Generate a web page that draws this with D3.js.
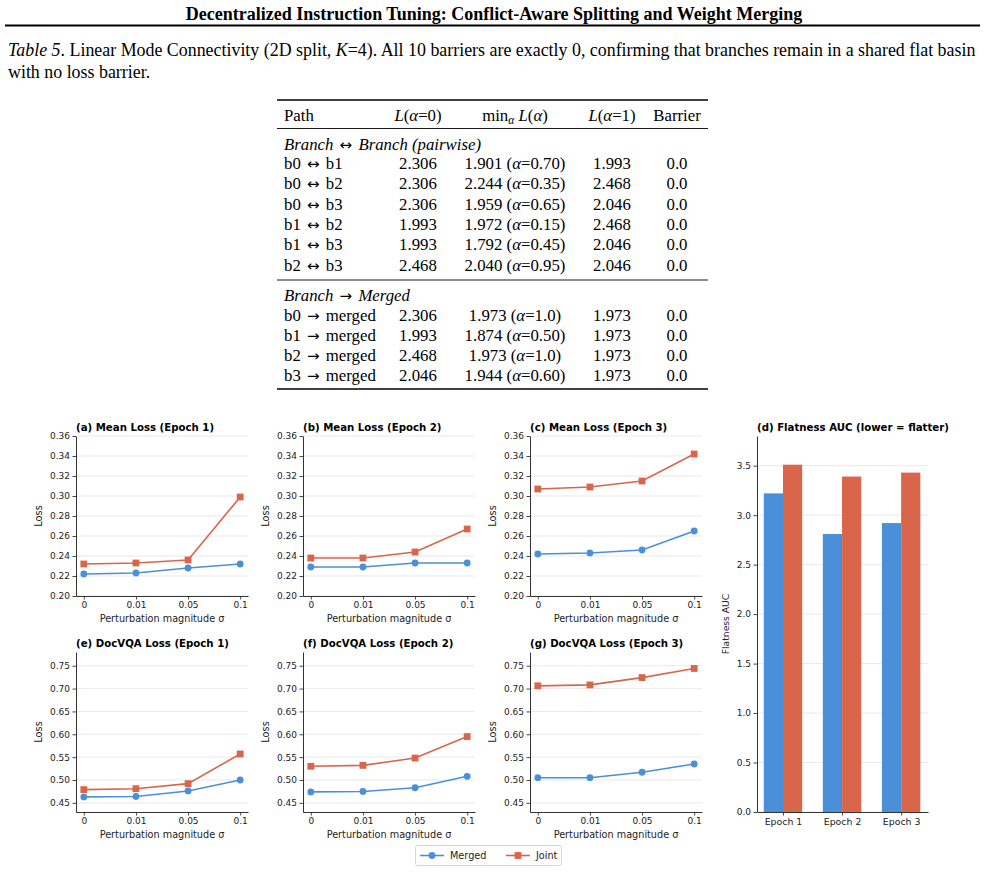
<!DOCTYPE html>
<html><head><meta charset="utf-8">
<script src="https://cdn.jsdelivr.net/npm/d3@7"></script>
<style>
body{margin:0;background:#fff;}
svg{display:block;}
.serif{font-family:"Liberation Serif","Times New Roman",serif;}
.sans{font-family:"DejaVu Sans",sans-serif;}
</style></head>
<body>
<svg id="chart" width="985" height="872"></svg>
<script>
// ---------- data ----------
const sigmaLabels = ["0", "0.01", "0.05", "0.1"];
const epochs = ["Epoch 1", "Epoch 2", "Epoch 3"];
const seriesNames = ["Merged", "Joint"];
const meanLossMerged = [[0.222, 0.223, 0.228, 0.232], [0.229, 0.229, 0.233, 0.233], [0.242, 0.243, 0.246, 0.265]];
const meanLossJoint  = [[0.232, 0.233, 0.236, 0.299], [0.238, 0.238, 0.244, 0.267], [0.307, 0.309, 0.315, 0.342]];
const docvqaMerged = [[0.463, 0.464, 0.476, 0.500], [0.474, 0.475, 0.483, 0.508], [0.505, 0.505, 0.517, 0.535]];
const docvqaJoint  = [[0.479, 0.481, 0.492, 0.557], [0.530, 0.532, 0.548, 0.595], [0.706, 0.708, 0.724, 0.744]];
const flatMerged = [3.22, 2.81, 2.92];
const flatJoint  = [3.51, 3.39, 3.43];
const meanTicks = [0.20, 0.22, 0.24, 0.26, 0.28, 0.30, 0.32, 0.34, 0.36];
const docTicks = [0.45, 0.50, 0.55, 0.60, 0.65, 0.70, 0.75];
const flatTicks = [0, 0.5, 1.0, 1.5, 2.0, 2.5, 3.0, 3.5];
const meanTitles = ["(a) Mean Loss (Epoch 1)", "(b) Mean Loss (Epoch 2)", "(c) Mean Loss (Epoch 3)"];
const docTitles = ["(e) DocVQA Loss (Epoch 1)", "(f) DocVQA Loss (Epoch 2)", "(g) DocVQA Loss (Epoch 3)"];

// table
const tablePairFrom = ["b0", "b0", "b0", "b1", "b1", "b2"];
const tablePairTo = ["b1", "b2", "b3", "b2", "b3", "b3"];
const tablePairL0 = ["2.306", "2.306", "2.306", "1.993", "1.993", "2.468"];
const tablePairMin = ["1.901", "2.244", "1.959", "1.972", "1.792", "2.040"];
const tablePairAlpha = ["0.70", "0.35", "0.65", "0.15", "0.45", "0.95"];
const tablePairL1 = ["1.993", "2.468", "2.046", "2.468", "2.046", "2.046"];
const tableMergeFrom = ["b0", "b1", "b2", "b3"];
const tableMergeL0 = ["2.306", "1.993", "2.468", "2.046"];
const tableMergeMin = ["1.973", "1.874", "1.973", "1.944"];
const tableMergeAlpha = ["1.0", "0.50", "1.0", "0.60"];
const tableMergeL1 = ["1.973", "1.973", "1.973", "1.973"];
const tableBarrier = ["0.0", "0.0", "0.0", "0.0", "0.0", "0.0", "0.0", "0.0", "0.0", "0.0"];

// ---------- drawing ----------
const BLUE = "#4a90d9", RED = "#d9654b";
const ARROWFONT = "DejaVu Sans, sans-serif";
const svg = d3.select("#chart");
svg.append("rect").attr("width", 985).attr("height", 872).attr("fill", "#fff");

// header
svg.append("text").attr("class", "serif").attr("x", 494).attr("y", 19.5)
  .attr("text-anchor", "middle").attr("font-weight", "bold").attr("font-size", 18)
  .text("Decentralized Instruction Tuning: Conflict-Aware Splitting and Weight Merging");
svg.append("line").attr("x1", 5).attr("x2", 980).attr("y1", 25.5).attr("y2", 25.5)
  .attr("stroke", "#000").attr("stroke-width", 1.8);

// caption
const capSize = 17.9;
const cap1 = svg.append("text").attr("class", "serif").attr("x", 8).attr("y", 56).attr("font-size", capSize);
cap1.append("tspan").attr("font-style", "italic").text("Table 5");
cap1.append("tspan").text(". Linear Mode Connectivity (2D split, ");
cap1.append("tspan").attr("font-style", "italic").text("K");
cap1.append("tspan").text("=4). All 10 barriers are exactly 0, confirming that branches remain in a shared flat basin");
svg.append("text").attr("class", "serif").attr("x", 8).attr("y", 78).attr("font-size", capSize)
  .text("with no loss barrier.");

// table
const T = svg.append("g").attr("class", "serif").attr("font-size", 16.8);
const tx0 = 277, tx1 = 708;
const colPath = 284, colL0 = 418, colMin = 515, colL1 = 612, colBar = 677;
function rule(y, w) {
  T.append("line").attr("x1", tx0).attr("x2", tx1).attr("y1", y).attr("y2", y)
    .attr("stroke", "#000").attr("stroke-width", w);
}
rule(100, 1.4); rule(128.5, 0.9); rule(280, 0.9); rule(389, 1.4);
function lAlpha(x, y, v) {
  const t = T.append("text").attr("x", x).attr("y", y).attr("text-anchor", "middle");
  t.append("tspan").attr("font-style", "italic").text("L");
  t.append("tspan").text("(");
  t.append("tspan").attr("font-style", "italic").text("α");
  t.append("tspan").text("=" + v + ")");
}
const hy = 121;
T.append("text").attr("x", colPath).attr("y", hy).text("Path");
lAlpha(colL0, hy, "0");
{
  const t = T.append("text").attr("x", colMin).attr("y", hy).attr("text-anchor", "middle");
  t.append("tspan").text("min");
  t.append("tspan").attr("font-style", "italic").attr("font-size", 11.5).attr("dy", 3).text("α");
  t.append("tspan").attr("dy", -3).text(" ");
  t.append("tspan").attr("font-style", "italic").text("L");
  t.append("tspan").text("(");
  t.append("tspan").attr("font-style", "italic").text("α");
  t.append("tspan").text(")");
}
lAlpha(colL1, hy, "1");
T.append("text").attr("x", colBar).attr("y", hy).attr("text-anchor", "middle").text("Barrier");

function pathText(x, y, a, arrow, b, italic) {
  const t = T.append("text").attr("x", x).attr("y", y);
  if (italic) t.attr("font-style", "italic");
  t.append("tspan").text(a + " ");
  t.append("tspan").attr("dx", 2).attr("font-family", ARROWFONT).attr("font-style", "normal").attr("font-size", 15).text(arrow);
  t.append("tspan").attr("dx", 2).text(" " + b);
}
pathText(colPath, 149.5, "Branch", "↔", "Branch (pairwise)", true);
function dataRow(y, from, arrow, to, l0, mn, al, l1, bar) {
  pathText(colPath, y, from, arrow, to, false);
  T.append("text").attr("x", colL0).attr("y", y).attr("text-anchor", "middle").text(l0);
  const t = T.append("text").attr("x", colMin).attr("y", y).attr("text-anchor", "middle");
  t.append("tspan").text(mn + " (");
  t.append("tspan").attr("font-style", "italic").text("α");
  t.append("tspan").text("=" + al + ")");
  T.append("text").attr("x", colL1).attr("y", y).attr("text-anchor", "middle").text(l1);
  T.append("text").attr("x", colBar).attr("y", y).attr("text-anchor", "middle").text(bar);
}
tablePairFrom.forEach((p, i) => dataRow(169 + i * 20.3, p, "↔", tablePairTo[i], tablePairL0[i], tablePairMin[i], tablePairAlpha[i], tablePairL1[i], tableBarrier[i]));
pathText(colPath, 300.5, "Branch", "→", "Merged", true);
tableMergeFrom.forEach((p, i) => dataRow(320.5 + i * 20.3, p, "→", "merged", tableMergeL0[i], tableMergeMin[i], tableMergeAlpha[i], tableMergeL1[i], tableBarrier[6 + i]));

// ---------- charts ----------
const TXT = "#222", SPINE = "#333", GRID = "#e6e6e6";
function styleAxis(g, fs) {
  g.select(".domain").attr("stroke", SPINE).attr("stroke-width", 1);
  g.selectAll(".tick line").attr("stroke", SPINE).attr("stroke-width", 0.9);
  g.selectAll(".tick text").attr("fill", TXT).attr("font-size", fs || 9)
    .attr("font-family", "DejaVu Sans, sans-serif");
}

function linePanel(x0, x1, y0, y1, domain, ticks, fmt, merged, joint, title) {
  const g = svg.append("g").attr("class", "sans");
  const x = d3.scaleLinear().domain([-0.15, 3.15]).range([x0, x1]);
  const y = d3.scaleLinear().domain(domain).range([y1, y0]);
  g.append("g").selectAll("line").data(ticks).join("line")
    .attr("x1", x0).attr("x2", x1).attr("y1", d => y(d)).attr("y2", d => y(d))
    .attr("stroke", GRID).attr("stroke-width", 0.9);
  const ya = g.append("g").attr("transform", `translate(${x0},0)`)
    .call(d3.axisLeft(y).tickValues(ticks).tickFormat(d3.format(fmt)).tickSizeInner(3.5).tickSizeOuter(0).tickPadding(2.5));
  styleAxis(ya, 9);
  const xa = g.append("g").attr("transform", `translate(0,${y1})`)
    .call(d3.axisBottom(x).tickValues([0, 1, 2, 3]).tickFormat(i => sigmaLabels[i]).tickSizeInner(3.5).tickSizeOuter(0).tickPadding(2.5));
  styleAxis(xa, 9);
  g.append("text").attr("x", x0).attr("y", y0 - 5).attr("font-weight", "bold").attr("font-size", 10.2)
    .attr("fill", "#000").text(title);
  g.append("text").attr("transform", `translate(${x0 - 34},${(y0 + y1) / 2}) rotate(-90)`)
    .attr("text-anchor", "middle").attr("font-size", 9.8).attr("fill", TXT).text("Loss");
  g.append("text").attr("x", (x0 + x1) / 2).attr("y", y1 + 25.5).attr("text-anchor", "middle")
    .attr("font-size", 9.7).attr("fill", TXT).text("Perturbation magnitude σ");
  const line = d3.line().x((d, i) => x(i)).y(d => y(d));
  g.append("path").datum(merged).attr("d", line).attr("fill", "none").attr("stroke", BLUE).attr("stroke-width", 1.6);
  g.selectAll(".cm").data(merged).join("circle").attr("cx", (d, i) => x(i)).attr("cy", d => y(d))
    .attr("r", 3.4).attr("fill", BLUE);
  g.append("path").datum(joint).attr("d", line).attr("fill", "none").attr("stroke", RED).attr("stroke-width", 1.6);
  const s = 6.8;
  g.selectAll(".sj").data(joint).join("rect").attr("x", (d, i) => x(i) - s / 2).attr("y", d => y(d) - s / 2)
    .attr("width", s).attr("height", s).attr("fill", RED);
}

const colX = [[76, 248], [303, 475], [530, 702]];
for (let k = 0; k < 3; k++) {
  linePanel(colX[k][0], colX[k][1], 436, 596, [0.20, 0.36], meanTicks, ".2f", meanLossMerged[k], meanLossJoint[k], meanTitles[k]);
  linePanel(colX[k][0], colX[k][1], 652, 812, [0.43, 0.78], docTicks, ".2f", docvqaMerged[k], docvqaJoint[k], docTitles[k]);
}

// bar panel (d)
{
  const x0 = 757, x1 = 928, y0 = 436, y1 = 812;
  const g = svg.append("g").attr("class", "sans");
  const x = d3.scaleLinear().domain([-0.44, 2.455]).range([x0, x1]);
  const y = d3.scaleLinear().domain([0, 3.8]).range([y1, y0]);
  g.append("g").selectAll("line").data(flatTicks).join("line")
    .attr("x1", x0).attr("x2", x1).attr("y1", d => y(d)).attr("y2", d => y(d))
    .attr("stroke", GRID).attr("stroke-width", 0.9);
  const bw = 0.325;
  g.selectAll(".bm").data(flatMerged).join("rect")
    .attr("x", (d, i) => x(i - bw)).attr("width", x(bw) - x(0))
    .attr("y", d => y(d)).attr("height", d => y(0) - y(d)).attr("fill", BLUE);
  g.selectAll(".bj").data(flatJoint).join("rect")
    .attr("x", (d, i) => x(i)).attr("width", x(bw) - x(0))
    .attr("y", d => y(d)).attr("height", d => y(0) - y(d)).attr("fill", RED);
  const ya = g.append("g").attr("transform", `translate(${x0},0)`)
    .call(d3.axisLeft(y).tickValues(flatTicks).tickFormat(d3.format(".1f")).tickSizeInner(3.5).tickSizeOuter(0).tickPadding(2.5));
  styleAxis(ya, 9);
  const xa = g.append("g").attr("transform", `translate(0,${y1})`)
    .call(d3.axisBottom(x).tickValues([0, 1, 2]).tickFormat(i => epochs[i]).tickSizeInner(3.5).tickSizeOuter(0).tickPadding(2.5));
  styleAxis(xa, 9.4);
  g.append("text").attr("x", x0).attr("y", y0 - 5).attr("font-weight", "bold").attr("font-size", 10.2)
    .attr("fill", "#000").text("(d) Flatness AUC (lower = flatter)");
  g.append("text").attr("transform", `translate(${x0 - 28},${(y0 + y1) / 2}) rotate(-90)`)
    .attr("text-anchor", "middle").attr("font-size", 9.2).attr("fill", TXT).text("Flatness AUC");
}

// legend
{
  const g = svg.append("g").attr("class", "sans").attr("font-size", 9.7);
  g.append("rect").attr("x", 415.5).attr("y", 845.5).attr("width", 146).attr("height", 20).attr("rx", 2)
    .attr("fill", "#fff").attr("stroke", "#d0d0d0").attr("stroke-width", 0.9);
  const items = [{ name: seriesNames[0], c: BLUE, x: 420 }, { name: seriesNames[1], c: RED, x: 506 }];
  items.forEach((it, i) => {
    const cy = 855.5;
    g.append("line").attr("x1", it.x).attr("x2", it.x + 24).attr("y1", cy).attr("y2", cy)
      .attr("stroke", it.c).attr("stroke-width", 1.6);
    if (i === 0) g.append("circle").attr("cx", it.x + 12).attr("cy", cy).attr("r", 3.4).attr("fill", it.c);
    else g.append("rect").attr("x", it.x + 12 - 3.4).attr("y", cy - 3.4).attr("width", 6.8).attr("height", 6.8).attr("fill", it.c);
    g.append("text").attr("x", it.x + 30).attr("y", cy + 3.5).attr("fill", TXT).text(it.name);
  });
}
</script>
</body></html>
